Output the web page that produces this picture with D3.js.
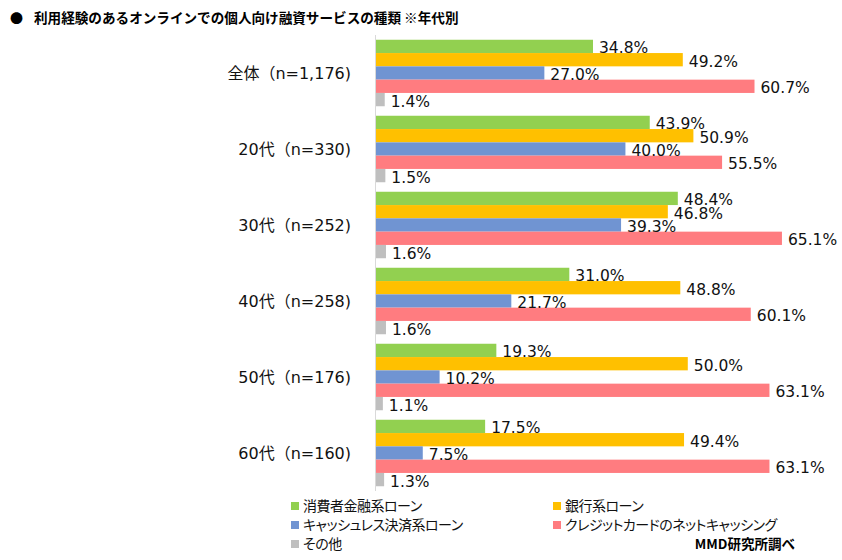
<!DOCTYPE html>
<html>
<head>
<meta charset="utf-8">
<script src="https://cdn.jsdelivr.net/npm/d3@7"></script>
<style>
  html, body { margin: 0; padding: 0; background: #fff; }
  svg { display: block; font-family: "Noto Sans CJK JP", "Noto Sans", sans-serif; }
  .lat { font-family: "DejaVu Sans", "Noto Sans CJK JP", sans-serif; }
  .palt { font-feature-settings: "palt" 1; letter-spacing: -0.5px; }
</style>
</head>
<body>
<svg id="chart" width="842" height="560"></svg>
<script>
const categories = ["全体（n=1,176)", "20代（n=330)", "30代（n=252)", "40代（n=258)", "50代（n=176)", "60代（n=160)"];
const seriesNames = ["消費者金融系ローン", "銀行系ローン", "キャッシュレス決済系ローン", "クレジットカードのネットキャッシング", "その他"];
const consumerLoan = [34.8, 43.9, 48.4, 31.0, 19.3, 17.5];
const bankLoan     = [49.2, 50.9, 46.8, 48.8, 50.0, 49.4];
const cashlessLoan = [27.0, 40.0, 39.3, 21.7, 10.2, 7.5];
const cardCashing  = [60.7, 55.5, 65.1, 60.1, 63.1, 63.1];
const other        = [1.4, 1.5, 1.6, 1.6, 1.1, 1.3];
const colors = ["#92D050", "#FFC000", "#7094D2", "#FF7C80", "#BFBFBF"];
const title = "利用経験のあるオンラインでの個人向け融資サービスの種類 ※年代別";
const source = "MMD研究所調べ";

const seriesValues = [consumerLoan, bankLoan, cashlessLoan, cardCashing, other];

const svg = d3.select("#chart");

const x = d3.scaleLinear().domain([0, 70]).range([376, 812.5]);
const y = d3.scaleBand().domain(categories).range([35, 491]).paddingInner(0.125).paddingOuter(0.0625);
const ySub = d3.scaleBand().domain(d3.range(seriesNames.length)).range([0, y.bandwidth()]);

// title
svg.append("text").attr("x", 10).attr("y", 23).attr("font-size", 13).attr("fill", "#000").text("●");
svg.append("text").attr("x", 34).attr("y", 23).attr("font-size", 13.6).attr("font-weight", "bold").attr("fill", "#000").text(title);

// bars
const groups = svg.append("g").selectAll("g").data(categories).join("g")
  .attr("transform", d => `translate(0,${y(d)})`);

groups.each(function(cat, ci) {
  const g = d3.select(this);
  seriesValues.forEach((vals, si) => {
    const v = vals[ci];
    g.append("rect")
      .attr("x", x(0))
      .attr("y", ySub(si))
      .attr("width", x(v) - x(0))
      .attr("height", ySub.bandwidth())
      .attr("fill", colors[si]);
  });
  seriesValues.forEach((vals, si) => {
    const v = vals[ci];
    g.append("text")
      .attr("class", "lat")
      .attr("x", x(v) + 6)
      .attr("y", ySub(si) + ySub.bandwidth() / 2 + 7)
      .attr("font-size", 15.5)
      .attr("fill", "#111")
      .text(v.toFixed(1) + "%");
  });
});

// axis line
svg.append("line")
  .attr("x1", x(0) - 0.5).attr("x2", x(0) - 0.5)
  .attr("y1", 35).attr("y2", 491)
  .attr("stroke", "#D9D9D9").attr("stroke-width", 1);

// category labels
svg.append("g").selectAll("text").data(categories).join("text")
  .attr("class", "lat")
  .attr("x", 351)
  .attr("y", d => y(d) + y.bandwidth() / 2 + 5.5)
  .attr("text-anchor", "end")
  .attr("font-size", 16)
  .attr("fill", "#111")
  .text(d => d);

// legend
const legendPos = [[291, 506], [553, 506], [291, 525], [553, 525], [291, 544]];
const lg = svg.append("g").selectAll("g").data(seriesNames).join("g")
  .attr("transform", (d, i) => `translate(${legendPos[i][0]},${legendPos[i][1]})`);
lg.append("rect").attr("x", 0).attr("y", -4).attr("width", 8).attr("height", 8).attr("fill", (d, i) => colors[i]);
lg.append("text").attr("class", "palt").attr("x", 12).attr("y", 5).attr("font-size", 14).attr("fill", "#111").text(d => d);

// source
svg.append("text").attr("x", 795).attr("y", 549).attr("text-anchor", "end")
  .attr("font-size", 13.5).attr("font-weight", "bold").attr("fill", "#000").text(source);
</script>
</body>
</html>
